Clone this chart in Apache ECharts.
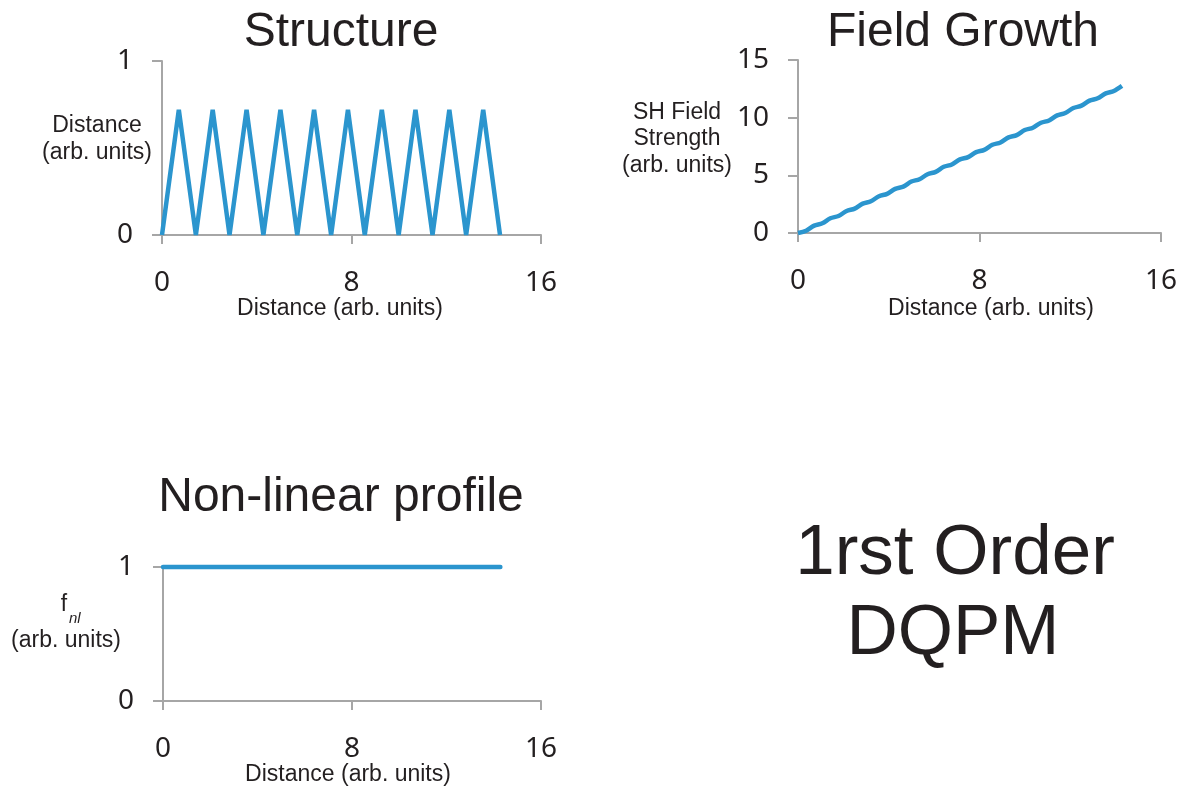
<!DOCTYPE html>
<html>
<head>
<meta charset="utf-8">
<script src="https://cdn.jsdelivr.net/npm/echarts@6/dist/echarts.min.js"></script>
<style>
html,body{margin:0;padding:0;background:#fff;}
#chart{width:1185px;height:792px;}
</style>
</head>
<body>
<div id="chart"></div>
<script>
// ---- Data ----
var titles = ['Structure', 'Field Growth', 'Non-linear profile'];
var xTitle = 'Distance (arb. units)';
var structureX = [0, 0.71, 1.43, 2.14, 2.85, 3.57, 4.28, 5.0, 5.71, 6.42, 7.14, 7.85, 8.56, 9.28, 9.99, 10.7, 11.42, 12.13, 12.84, 13.56, 14.27];
var structureY = [0, 0.72, 0, 0.72, 0, 0.72, 0, 0.72, 0, 0.72, 0, 0.72, 0, 0.72, 0, 0.72, 0, 0.72, 0, 0.72, 0];
var fieldX = [0, 0.357, 0.714, 1.071, 1.428, 1.785, 2.142, 2.499, 2.856, 3.213, 3.57, 3.927, 4.284, 4.641, 4.998, 5.355, 5.712, 6.069, 6.426, 6.783, 7.14, 7.497, 7.854, 8.211, 8.568, 8.925, 9.282, 9.639, 9.996, 10.353, 10.71, 11.067, 11.424, 11.781, 12.138, 12.495, 12.852, 13.209, 13.566, 13.923, 14.28];
var fieldY = [0, 0.20, 0.64, 0.84, 1.28, 1.47, 1.91, 2.11, 2.55, 2.75, 3.19, 3.39, 3.83, 4.02, 4.46, 4.66, 5.10, 5.30, 5.74, 5.94, 6.38, 6.58, 7.01, 7.21, 7.65, 7.85, 8.29, 8.49, 8.93, 9.13, 9.56, 9.76, 10.20, 10.40, 10.84, 11.04, 11.48, 11.68, 12.11, 12.31, 12.75];
var profileX = [0, 3.5, 7.0, 10.5, 14.28];
var profileY = [1, 1, 1, 1, 1];
var xTicks = [0, 8, 16];
var structureTicks = [0, 1];
var fieldTicks = [0, 5, 10, 15];
var profileTicks = [0, 1];

function pairs(xs, ys){ return xs.map(function(x,i){ return [x, ys[i]]; }); }

var BLUE = '#2B95CE';
var AXIS = '#A6A6A6';
var TXT = '#231F20';
var TICKFONT = '"Noto Sans", sans-serif';
var FONT = '"Liberation Sans", Arial, sans-serif';

function xAxisCfg(gi){
  return {
    gridIndex: gi, type: 'value', min: xTicks[0], max: xTicks[xTicks.length-1], interval: 8,
    axisLine: {show: true, lineStyle: {color: AXIS, width: 2}},
    axisTick: {show: true, inside: false, length: 9, lineStyle: {color: AXIS, width: 2}},
    axisLabel: {color: TXT, fontSize: 28, fontFamily: TICKFONT, margin: 34},
    splitLine: {show: false}
  };
}
function yAxisCfg(gi, ticks){
  return {
    gridIndex: gi, type: 'value', min: ticks[0], max: ticks[ticks.length-1], interval: ticks[1]-ticks[0],
    axisLine: {show: true, lineStyle: {color: AXIS, width: 2}},
    axisTick: {show: true, inside: false, length: 10, lineStyle: {color: AXIS, width: 2}},
    axisLabel: {color: TXT, fontSize: 28, fontFamily: TICKFONT, margin: 29},
    splitLine: {show: false}
  };
}
function txt(x, y, text, size, extra){
  var st = {text: text, x: x, y: y, fill: TXT, font: (extra && extra.font) || (size + 'px ' + FONT), textAlign: (extra && extra.align) || 'center', textVerticalAlign: 'middle'};
  if (extra && extra.lineHeight) st.lineHeight = extra.lineHeight;
  return {type: 'text', style: st, silent: true};
}

var chart = echarts.init(document.getElementById('chart'), null, {renderer: 'canvas'});
chart.setOption({
  animation: false,
  backgroundColor: '#ffffff',
  grid: [
    {left: 162, right: 644, top: 61, bottom: 557},
    {left: 798, right: 24, top: 60, bottom: 559},
    {left: 163, right: 644, top: 567, bottom: 91}
  ],
  xAxis: [xAxisCfg(0), xAxisCfg(1), xAxisCfg(2)],
  yAxis: [yAxisCfg(0, structureTicks), yAxisCfg(1, fieldTicks), yAxisCfg(2, profileTicks)],
  series: [
    {type: 'line', xAxisIndex: 0, yAxisIndex: 0, data: pairs(structureX, structureY), showSymbol: false, lineStyle: {color: BLUE, width: 4.5}, clip: false},
    {type: 'line', xAxisIndex: 1, yAxisIndex: 1, data: pairs(fieldX, fieldY), smooth: 0.3, showSymbol: false, lineStyle: {color: BLUE, width: 4.5}, clip: false},
    {type: 'line', xAxisIndex: 2, yAxisIndex: 2, data: pairs(profileX, profileY), showSymbol: false, lineStyle: {color: BLUE, width: 4.5, cap: 'round'}, clip: false}
  ],
  graphic: [
    txt(341, 33, titles[0], 48),
    txt(963, 33, titles[1], 48),
    txt(341, 498, titles[2], 48),
    txt(340, 309, xTitle, 23),
    txt(991, 309, xTitle, 23),
    txt(348, 775, xTitle, 23),
    txt(97, 139, 'Distance\n(arb. units)', 23, {lineHeight: 27}),
    txt(677, 139, 'SH Field\nStrength\n(arb. units)', 23, {lineHeight: 26.5}),
    txt(64, 605, 'f', 23),
    txt(69, 619, 'nl', 15, {align: 'left', font: 'italic 15px ' + FONT}),
    txt(66, 641, '(arb. units)', 23),
    txt(955, 554, '1rst Order', 71),
    txt(953, 634, 'DQPM', 71)
  ]
});
</script>
</body>
</html>
